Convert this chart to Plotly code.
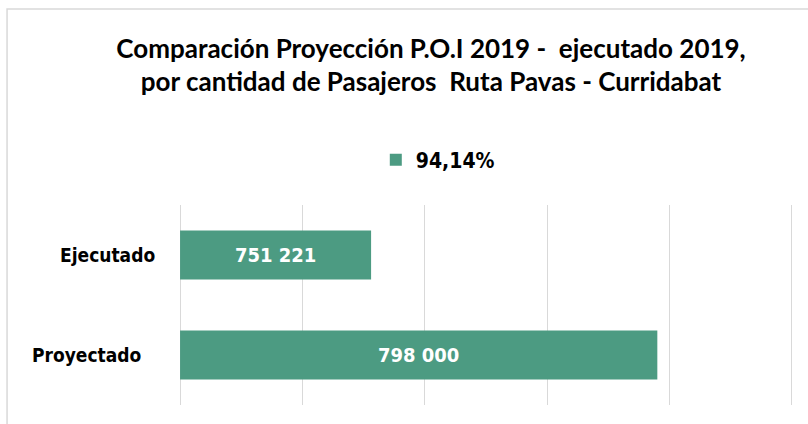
import plotly.graph_objects as go

# datos
categorias = ["Proyectado", "Ejecutado"]
pasajeros = [798000, 751221]
serie = "94,14%"

# el eje horizontal arranca en 720 000, como en el original
eje_min = 720000
eje_max = 820000
eje_paso = 20000

verde = "#4C9B82"
fuente_num = "DejaVu Sans Condensed"

textos = ["{:,}".format(v).replace(",", " ") for v in pasajeros]

fig = go.Figure()
fig.add_trace(go.Bar(
    y=categorias,
    x=[v - eje_min for v in pasajeros],
    base=eje_min,
    orientation="h",
    name=serie,
    marker=dict(color=verde, line=dict(width=0)),
    text=textos,
    textposition="inside",
    insidetextanchor="middle",
    textangle=0,
    textfont=dict(family=fuente_num, size=20, color="white", weight="bold"),
    showlegend=True,
))

# etiquetas de categoría (posición a mano como en el original)
pos_etiqueta = {"Ejecutado": -0.032, "Proyectado": -0.053}
for cat in categorias:
    fig.add_annotation(
        x=pos_etiqueta[cat], xref="paper", y=cat, yref="y",
        text=cat, showarrow=False, xanchor="right", yanchor="middle",
        font=dict(family=fuente_num, size=19, color="black", weight="bold"),
    )

# borde del área del gráfico
fig.add_shape(type="rect", xref="paper", yref="paper",
              x0=-0.275, x1=1.04, y0=-0.15, y1=1.98,
              line=dict(color="#D9D9D9", width=1.5), fillcolor="rgba(0,0,0,0)",
              layer="below")

fig.update_layout(
    width=808, height=424,
    margin=dict(l=177, r=13, t=205, b=19),
    paper_bgcolor="white",
    plot_bgcolor="white",
    bargap=0.51,
    title=dict(
        text="Comparación Proyección P.O.I 2019 -  ejecutado 2019,<br>por cantidad de Pasajeros  Ruta Pavas - Curridabat",
        x=0.411, xref="paper", xanchor="center",
        y=0.864, yref="container", yanchor="middle",
        font=dict(family="Lato", size=26, color="black", weight="bold"),
    ),
    legend=dict(
        orientation="h",
        x=0.422, xanchor="center",
        y=1.225, yanchor="middle",
        font=dict(family=fuente_num, size=21, color="black", weight="bold"),
        itemwidth=30,
    ),
    xaxis=dict(
        range=[eje_min - 500, eje_max + 500],
        tick0=eje_min, dtick=eje_paso,
        showticklabels=False,
        showgrid=True, gridcolor="#D9D9D9", gridwidth=1,
        zeroline=False, showline=False, ticks="",
    ),
    yaxis=dict(
        showticklabels=False,
        showgrid=False, zeroline=False, showline=False, ticks="",
    ),
)

fig.write_html("out.html", config={"displayModeBar": False},
               post_script="document.body.style.margin='0';")
